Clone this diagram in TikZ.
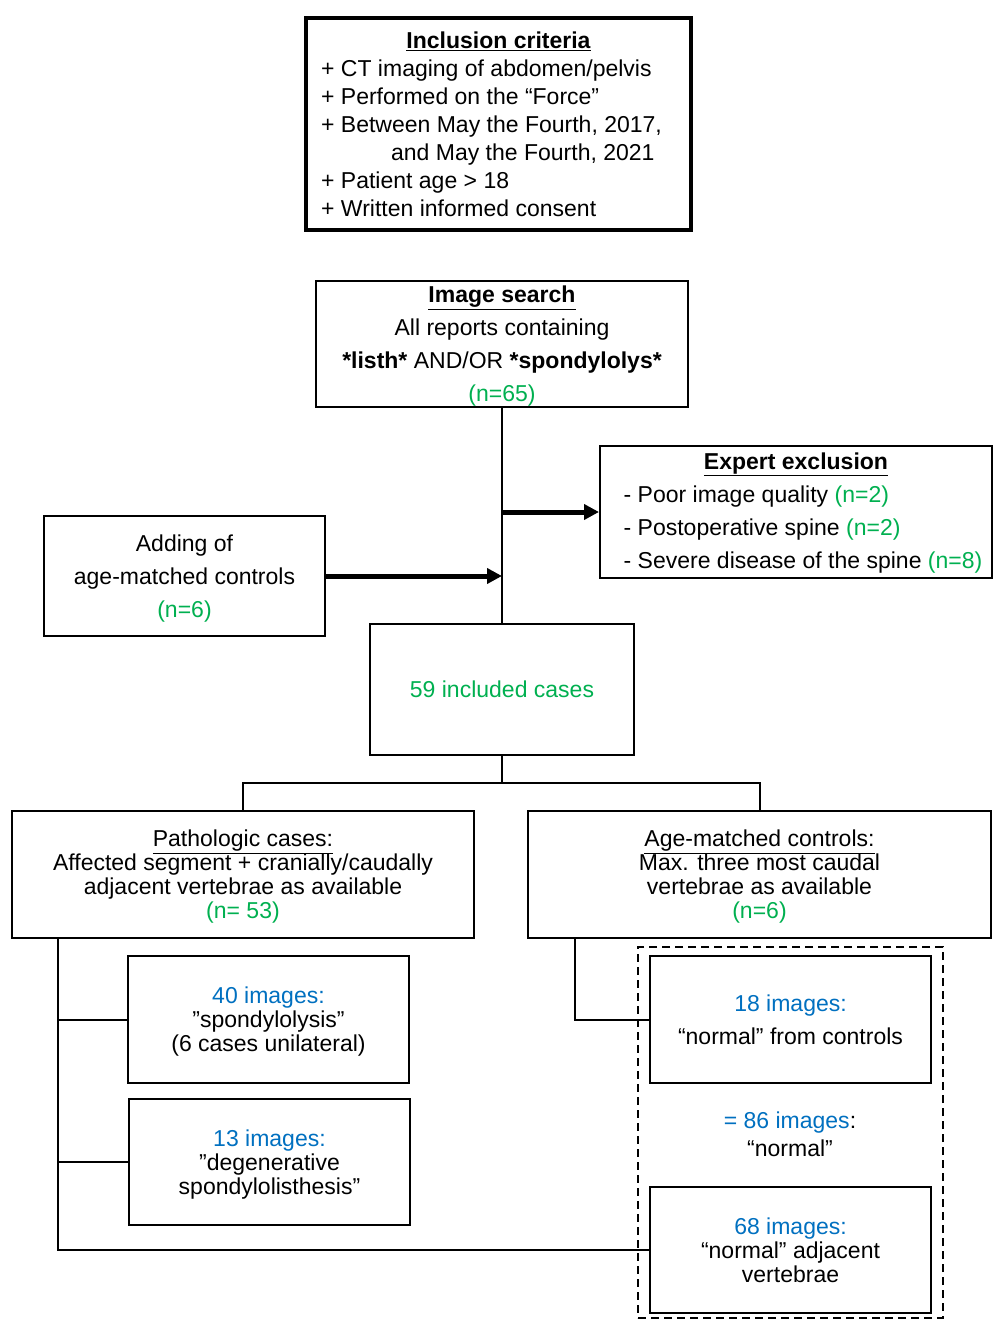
\documentclass[tikz,border=0pt]{standalone}
\usepackage{fontspec}
\setmainfont{Liberation Sans}
\usetikzlibrary{arrows.meta}
\definecolor{grn}{HTML}{00B050}
\definecolor{blu}{HTML}{0070C0}
\newcommand{\lowr}{\rule{0pt}{21.5pt}}
\begin{document}
\begin{tikzpicture}[x=1pt,y=-1pt,
 box/.style={draw, line width=2pt, inner sep=0pt, align=center},
 f33/.style={font=\fontsize{23}{33}\selectfont},
 f24/.style={font=\fontsize{23}{24}\selectfont},
 conn/.style={line width=2pt},
 arr/.style={line width=5pt, -{Triangle[length=15pt,width=15pt]}},
]
\useasboundingbox[fill=white] (0,0) rectangle (1007,1344);

\node[box, line width=4pt, minimum width=385pt, minimum height=212pt, font=\fontsize{23}{28}\selectfont] (incl) at (498.5,124)
 {\begin{tabular}{@{}l@{\hspace{14pt}}}\multicolumn{1}{@{}c@{}}{\rule{0pt}{25.5pt}\textbf{\underline{Inclusion criteria}}}\\
 + CT imaging of abdomen/pelvis\\
 + Performed on the “Force”\\
 + Between May the Fourth, 2017,\\
 \hspace*{70pt}and May the Fourth, 2021\\
 + Patient age > 18\\
 + Written informed consent\end{tabular}};

\node[box, f33, minimum width=372pt, minimum height=126pt] (search) at (502,344)
 {\lowr\textbf{\underline{Image search}}\\ All reports containing\\ \textbf{*listh*} AND/OR \textbf{*spondylolys*}\\ \textcolor{grn}{(n=65)}};

\node[box, f33, minimum width=392pt, minimum height=130pt] (expert) at (796,512)
 {\begin{tabular}{@{\hspace{14pt}}l@{}}\multicolumn{1}{@{}c@{}}{\textbf{\underline{Expert exclusion}}}\\
 - Poor image quality \textcolor{grn}{(n=2)}\\
 - Postoperative spine \textcolor{grn}{(n=2)}\\
 - Severe disease of the spine \textcolor{grn}{(n=8)}\end{tabular}};

\node[box, f33, minimum width=281pt, minimum height=120pt] (add) at (184.5,576)
 {\lowr Adding of\\ age-matched controls\\ \textcolor{grn}{(n=6)}};

\node[box, f33, minimum width=264pt, minimum height=131pt] (inc59) at (502,689.5)
 {\textcolor{grn}{59 included cases}};

\node[box, f24, minimum width=462pt, minimum height=127pt] (path) at (243,874.5)
 {\lowr\underline{Pathologic cases:}\\ Affected segment + cranially/caudally\\ adjacent vertebrae as available\\ \textcolor{grn}{(n= 53)}};

\node[box, f24, minimum width=463pt, minimum height=127pt] (age) at (759.5,874.5)
 {\lowr\underline{Age-matched controls:}\\ Max. three most caudal\\ vertebrae as available\\ \textcolor{grn}{(n=6)}};

\node[box, f24, minimum width=281pt, minimum height=127pt] (b40) at (268.5,1019.5)
 {\lowr\textcolor{blu}{40 images:}\\ ”spondylolysis”\\ (6 cases unilateral)};

\node[box, f24, minimum width=281pt, minimum height=126pt] (b13) at (269.5,1162)
 {\lowr\textcolor{blu}{13 images:}\\ ”degenerative\\ spondylolisthesis”};

\node[draw, dashed, dash pattern=on 8pt off 5pt, line width=2pt, inner sep=0pt, minimum width=305pt, minimum height=371pt] (grp) at (790.5,1132.5) {};

\node[box, f33, minimum width=281pt, minimum height=127pt] (b18) at (790.5,1019.5)
 {\textcolor{blu}{18 images:}\\ “normal” from controls};

\node[align=center, inner sep=0pt, font=\fontsize{23}{28}\selectfont] (sum) at (790,1134)
 {\textcolor{blu}{= 86 images}:\\ “normal”};

\node[box, f24, minimum width=281pt, minimum height=126pt] (b68) at (790.5,1250)
 {\textcolor{blu}{68 images:}\\ “normal” adjacent\\ vertebrae};

% connectors
\draw[conn] (search.south) -- (inc59.north);
\draw[arr] (search.south |- expert.west) -- (expert.west);
\draw[arr] (add.east) -- (add.east -| search.south);
\coordinate (split) at (502,783);
\draw[conn] (inc59.south) -- (split);
\draw[conn] (path.north) |- (split) -| (age.north);
\coordinate (ltop) at (58,938);
\draw[conn] (ltop) |- (b40.west);
\draw[conn] (ltop) |- (b13.west);
\draw[conn] (ltop) |- (b68.west);
\coordinate (rtop) at (575,938);
\draw[conn] (rtop) |- (b18.west);
\end{tikzpicture}
\end{document}
